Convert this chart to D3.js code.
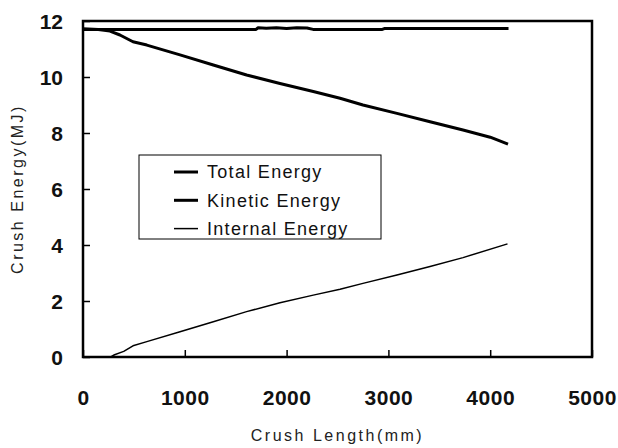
<!DOCTYPE html>
<html>
<head>
<meta charset="utf-8">
<script src="https://cdn.jsdelivr.net/npm/d3@7"></script>
<style>
  body { margin: 0; background: #fff; }
  svg { display: block; font-family: "Liberation Sans", Arial, sans-serif; }
</style>
</head>
<body>
<svg id="chart" width="618" height="448"></svg>
<script>
// series data (crush length in mm, energy in MJ)
const totalLen = [0, 1700, 1720, 1800, 1900, 2000, 2100, 2200, 2260, 2940, 2960, 4180];
const totalE   = [11.70, 11.70, 11.76, 11.74, 11.76, 11.73, 11.76, 11.75, 11.70, 11.70, 11.73, 11.73];

const kineticLen = [0, 150, 265, 363, 491, 627, 953, 1280, 1607, 1935, 2262, 2525, 2750, 3084, 3409, 3733, 4000, 4175];
const kineticE   = [11.72, 11.70, 11.64, 11.50, 11.26, 11.14, 10.79, 10.43, 10.07, 9.77, 9.48, 9.24, 9.00, 8.70, 8.40, 8.11, 7.85, 7.60];

const internalLen = [216, 280, 310, 400, 491, 627, 953, 1280, 1607, 1935, 2262, 2525, 2750, 3084, 3409, 3733, 4170];
const internalE   = [0, 0.02, 0.08, 0.20, 0.40, 0.55, 0.90, 1.26, 1.62, 1.94, 2.21, 2.42, 2.63, 2.93, 3.23, 3.55, 4.04];

const xTicks = [0, 1000, 2000, 3000, 4000, 5000];
const yTicks = [0, 2, 4, 6, 8, 10, 12];
const seriesNames = ["Total Energy", "Kinetic Energy", "Internal Energy"];

const svg = d3.select("#chart");
const margin = { top: 21, right: 26, bottom: 91, left: 83 };
const width = +svg.attr("width");
const height = +svg.attr("height");

const x = d3.scaleLinear().domain([0, 5000]).range([margin.left, width - margin.right]);
const y = d3.scaleLinear().domain([0, 12]).range([height - margin.bottom, margin.top]);

const toPoints = (xs, ys) => xs.map((v, i) => [v, ys[i]]);
const series = [
  { name: seriesNames[0], pts: toPoints(totalLen, totalE), w: 3 },
  { name: seriesNames[1], pts: toPoints(kineticLen, kineticE), w: 3 },
  { name: seriesNames[2], pts: toPoints(internalLen, internalE), w: 1.5 }
];

// axes with inward ticks
const xAxis = svg.append("g")
  .attr("transform", `translate(0,${y(0)})`)
  .call(d3.axisBottom(x).tickValues(xTicks).tickSize(-7).tickPadding(0).tickFormat(d3.format("d")));
xAxis.select(".domain").remove();
xAxis.selectAll("line").attr("stroke", "#000").attr("stroke-width", 1.5);
xAxis.selectAll("text")
  .attr("y", 48).attr("dy", 0)
  .attr("font-size", 21).attr("font-weight", "bold").attr("fill", "#111")
  .attr("letter-spacing", 0.5);

const yAxis = svg.append("g")
  .attr("transform", `translate(${x(0)},0)`)
  .call(d3.axisLeft(y).tickValues(yTicks).tickSize(-7).tickPadding(0));
yAxis.select(".domain").remove();
yAxis.selectAll("line").attr("stroke", "#000").attr("stroke-width", 1.5);
yAxis.selectAll("text")
  .attr("x", -20).attr("dy", "0.36em")
  .attr("font-size", 21).attr("font-weight", "bold").attr("fill", "#111");

// plot frame
svg.append("rect")
  .attr("x", x(0)).attr("y", y(12))
  .attr("width", x(5000) - x(0)).attr("height", y(0) - y(12))
  .attr("fill", "none").attr("stroke", "#000").attr("stroke-width", 2.5);

// lines
const line = d3.line().x(d => x(d[0])).y(d => y(d[1]));
svg.selectAll(".series")
  .data(series)
  .join("path")
  .attr("class", "series")
  .attr("d", d => line(d.pts))
  .attr("fill", "none")
  .attr("stroke", "#000")
  .attr("stroke-width", d => d.w)
  .attr("stroke-linejoin", "round");

// axis titles
svg.append("text")
  .attr("x", (x(0) + x(5000)) / 2).attr("y", 441)
  .attr("text-anchor", "middle")
  .attr("font-size", 16).attr("letter-spacing", 2.5).attr("fill", "#222")
  .text("Crush Length(mm)");

svg.append("text")
  .attr("transform", `translate(23,${(y(0) + y(12)) / 2}) rotate(-90)`)
  .attr("text-anchor", "middle")
  .attr("font-size", 16).attr("letter-spacing", 2.5).attr("fill", "#222")
  .text("Crush Energy(MJ)");

// legend
const legend = svg.append("g").attr("transform", "translate(139,155)");
legend.append("rect")
  .attr("width", 242).attr("height", 84)
  .attr("fill", "#fff").attr("stroke", "#000").attr("stroke-width", 1);
const items = legend.selectAll(".item")
  .data(series)
  .join("g")
  .attr("class", "item")
  .attr("transform", (d, i) => `translate(0,${17 + i * 28.3})`);
items.append("line")
  .attr("x1", 35).attr("x2", 59)
  .attr("stroke", "#000").attr("stroke-width", d => d.w);
items.append("text")
  .attr("x", 68).attr("dy", "0.36em")
  .attr("font-size", 18).attr("letter-spacing", 1.3).attr("fill", "#111")
  .text(d => d.name);
</script>
</body>
</html>
